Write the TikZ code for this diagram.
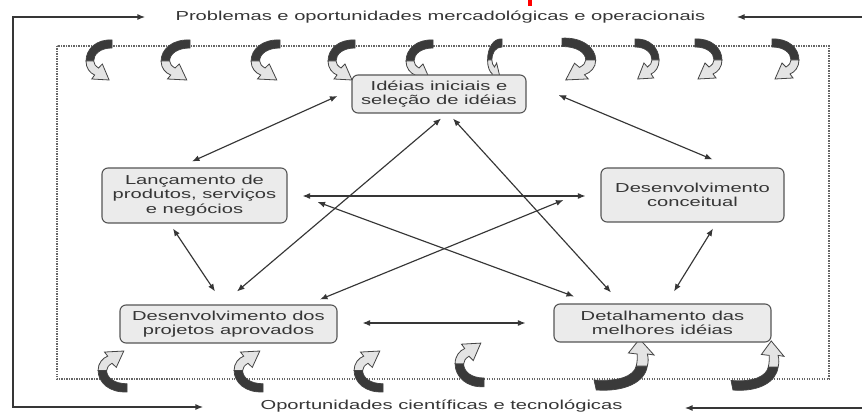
\documentclass[tikz,border=0pt]{standalone}
\usepackage{fontspec}
\newfontfamily\lbl[FakeStretch=1.55]{Liberation Sans}
\usetikzlibrary{arrows.meta,calc}
\definecolor{ink}{HTML}{363636}
\definecolor{boxline}{HTML}{555555}
\definecolor{boxfill}{HTML}{EBEBEB}
\definecolor{swdark}{HTML}{3A3A3A}
\definecolor{swlight}{HTML}{E4E4E4}
\definecolor{swline}{HTML}{444444}
\definecolor{dotcol}{HTML}{666666}
\tikzset{
  box/.style={draw=boxline, line width=1.1pt, fill=boxfill, rounded corners=6pt,
    font=\lbl\fontsize{13}{14.5}\selectfont, text=ink, align=center, inner sep=0pt},
  lab/.style={font=\lbl\fontsize{13}{14.5}\selectfont, text=ink, inner sep=0pt},
  conn/.style={{Latex[length=7.5pt,width=6pt]}-{Latex[length=7.5pt,width=6pt]}, draw=ink, line width=1.15pt},
  frameline/.style={draw=ink, line width=1.4pt},
  dotline/.style={draw=dotcol, line width=1.3pt, dash pattern=on 1.2pt off 1.3pt},
  swirl/.pic={
    \filldraw[fill=swdark, draw=swline, line width=0.7pt]
      (28,3) .. controls (12,2) and (1,12) .. (1,24) -- (9,24)
      .. controls (9,17) and (16,11) .. (28,11) -- cycle;
    \filldraw[fill=swlight, draw=swline, line width=0.8pt]
      (1,24) .. controls (1,31) and (5,36) .. (10,38) -- (7,42) -- (25,43)
      -- (18,27) -- (14,31) .. controls (11,29) and (9,27) .. (9,24) -- cycle;
  },
  upswirl/.pic={
    \filldraw[fill=swdark, draw=swline, line width=0.7pt]
      (2,52) .. controls (28,54) and (46,44) .. (48,28) -- (38,28)
      .. controls (36,38) and (22,44) .. (0,42) -- cycle;
    \filldraw[fill=swlight, draw=swline, line width=0.8pt]
      (48,28) .. controls (49,24) and (49,20) .. (48,16) -- (54,17) -- (41,1)
      -- (31,15) -- (39,16) .. controls (39,20) and (39,24) .. (38,28) -- cycle;
  }
}
\begin{document}
\begin{tikzpicture}[x=1pt,y=-1pt]
\useasboundingbox (0,0) rectangle (862,414);
\fill[white] (0,0) rectangle (862,414);
\fill[red] (528,0) rectangle (532,6);

% dotted inner frame
\draw[dotline] (57,46) rectangle (829,379);

% top row of curved arrows
\pic[xscale=27/28, yscale=44/44] at (85,37) {swirl};
\pic[xscale=30/28, yscale=44/44] at (160,37) {swirl};
\pic[xscale=30/28, yscale=44/44] at (250,37) {swirl};
\pic[xscale=28/28, yscale=44/44] at (327,37) {swirl};
\pic[xscale=28/28, yscale=44/44] at (405,37) {swirl};
\pic[xscale=15/28, yscale=44/44] at (487,36) {swirl};
\pic[xscale=-35/28, yscale=46/44] at (597,35) {swirl};
\pic[xscale=-25/28, yscale=44/44] at (660,36) {swirl};
\pic[xscale=-28/28, yscale=44/44] at (723,36) {swirl};
\pic[xscale=-28/28, yscale=44/44] at (800,36) {swirl};

% bottom row of curved arrows
\pic[xscale=30/28, yscale=-45/44] at (97,395) {swirl};
\pic[xscale=30/28, yscale=-45/44] at (233,395) {swirl};
\pic[xscale=30/28, yscale=-45/44] at (353,395) {swirl};
\pic[xscale=30/28, yscale=-48/44] at (454,390) {swirl};
\pic[xscale=60/54, yscale=54/54] at (594,338) {upswirl};
\pic[xscale=53/54, yscale=52/54] at (731,340) {upswirl};

% outer labels
\node[lab] (TT) at (440.5,17) {Problemas e oportunidades mercadológicas e operacionais};
\node[lab] (TB) at (441.5,406) {Oportunidades científicas e tecnológicas};

% outer frame
\coordinate (FTL) at (13,17);
\coordinate (FBL) at (13,407);
\coordinate (FTR) at (862,17);
\coordinate (FBR) at (862,408);
\draw[frameline, {Latex[length=8pt,width=6pt]}-{Latex[length=8pt,width=6pt]}]
  ($(TT.west)+(-30,0)$) -- (FTL) -- (FBL) -- ($(TB.west)+(-57,1)$);
\draw[frameline, -{Latex[length=8pt,width=6pt]}] (FTR) -- ($(TT.east)+(31,0)$);
\draw[frameline, -{Latex[length=8pt,width=6pt]}] (FBR) -- ($(TB.east)+(62,2)$);

% boxes
\node[box, minimum width=174pt, minimum height=38pt] (I) at (439,94) {Idéias iniciais e\\seleção de idéias};
\node[box, minimum width=185pt, minimum height=55pt] (L) at (194.5,195.5) {Lançamento de\\produtos, serviços\\e negócios};
\node[box, minimum width=183pt, minimum height=54pt] (C) at (692.5,195) {Desenvolvimento\\conceitual};
\node[box, minimum width=217pt, minimum height=38pt] (P) at (228.5,324) {Desenvolvimento dos\\projetos aprovados};
\node[box, minimum width=217pt, minimum height=38pt] (D) at (662.5,323) {Detalhamento das\\melhores idéias};

% connectors (complete graph)
\draw[conn] ($(I.west)+(-14,2)$) -- ($(L.north)+(-2.5,-6)$);
\draw[conn] ($(I.east)+(32,1)$) -- ($(C.north)+(20,-8)$);
\draw[conn] ($(I.south)+(2,5)$) -- ($(P.north)+(8.5,-13)$);
\draw[conn] ($(I.south)+(14,5)$) -- ($(D.north)+(-51.5,-11)$);
\draw[conn] ($(L.south)+(-21.5,5)$) -- ($(P.north)+(-13.5,-13)$);
\draw[conn] ($(C.south)+(20.5,6)$) -- ($(D.north)+(11.5,-12)$);
\draw[conn] ($(L.east)+(15,0.5)$) -- ($(C.west)+(-15,1)$);
\draw[conn] ($(P.east)+(25,-1)$) -- ($(D.west)+(-28,0)$);
\draw[conn] ($(L.east)+(30,6.5)$) -- ($(D.north)+(-88.5,-7)$);
\draw[conn] ($(C.west)+(-37,5)$) -- ($(P.north)+(91.5,-5)$);
\end{tikzpicture}
\end{document}
